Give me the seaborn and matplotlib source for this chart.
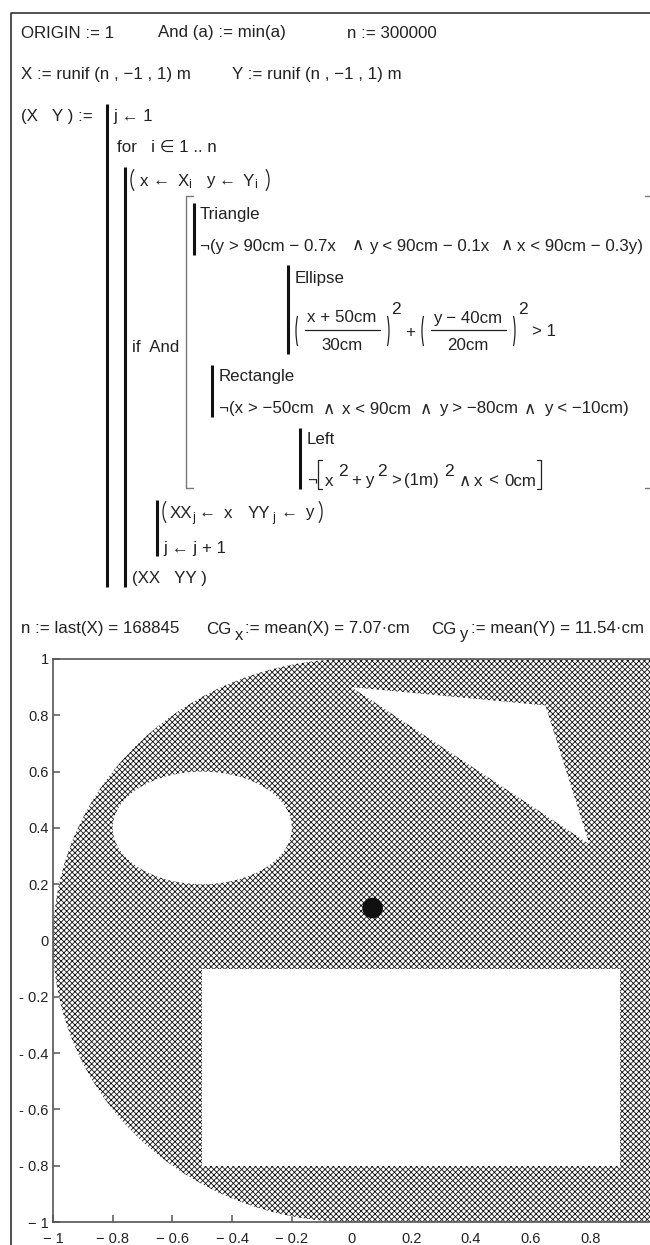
import matplotlib
matplotlib.use("Agg")
import matplotlib.pyplot as plt
import seaborn as sns
from matplotlib.patches import Wedge, Rectangle, Ellipse, Polygon, Arc

sns.set_style("white")
plt.rcParams['font.family'] = ['Liberation Sans', 'DejaVu Sans']
plt.rcParams['hatch.linewidth'] = 0.6

# Values
disk_radius = [1.0]
right_block_x = [-0.004, 1.0]
right_block_y = [-1.0, 1.0]
ellipse_centre = [-0.5, 0.4]
ellipse_radii = [0.3, 0.2]
triangle_x = [0.0, 0.6495, 0.797]
triangle_y = [0.9, 0.835, 0.342]
rect_x = [-0.5, 0.9]
rect_y = [-0.8, -0.1]
cg_x = [0.0707]
cg_y = [0.1154]
x_ticks = [-1, -0.8, -0.6, -0.4, -0.2, 0, 0.2, 0.4, 0.6, 0.8, 1]
x_labels = ['− 1', '− 0.8', '− 0.6', '− 0.4', '− 0.2', '0', '0.2', '0.4', '0.6', '0.8', '']
y_ticks = [-1, -0.8, -0.6, -0.4, -0.2, 0, 0.2, 0.4, 0.6, 0.8, 1]
y_labels = ['− 1', '- 0.8', '- 0.6', '- 0.4', '- 0.2', '0', '0.2', '0.4', '0.6', '0.8', '1']

W, H = 650, 1245
fig = plt.figure(figsize=(W / 100, H / 100), dpi=100, facecolor='white')

# ---- plot ----
L, R, T, B = 53, 650, 659, 1222
ax = fig.add_axes([L / W, 1 - B / H, (R - L) / W, (B - T) / H])
ax.set_xlim(-1, 1)
ax.set_ylim(-1, 1)
STIP = dict(facecolor='white', edgecolor='#111111', hatch='xxxxxx', linewidth=0)
ax.add_patch(Wedge((0, 0), disk_radius[0], 90, 270, **STIP))
ax.add_patch(Rectangle((right_block_x[0], right_block_y[0]),
                       right_block_x[1] - right_block_x[0],
                       right_block_y[1] - right_block_y[0], **STIP))
ax.add_patch(Ellipse(ellipse_centre, 2 * ellipse_radii[0], 2 * ellipse_radii[1],
                     facecolor='white', edgecolor='none', zorder=2))
ax.add_patch(Polygon(list(zip(triangle_x, triangle_y)), facecolor='white',
                     edgecolor='none', zorder=2))
ax.add_patch(Rectangle((rect_x[0], rect_y[0]), rect_x[1] - rect_x[0],
                       rect_y[1] - rect_y[0], facecolor='white',
                       edgecolor='none', zorder=2))
sns.scatterplot(x=cg_x, y=cg_y, s=220, color='#111111', edgecolor='none',
                ax=ax, zorder=4, legend=False)
ax.set_xticks(x_ticks, x_labels)
ax.set_yticks(y_ticks, y_labels)
ax.tick_params(axis='x', direction='in', length=5, width=1.1, color='#555555',
               labelsize=10.5, labelcolor='#222222', pad=7, bottom=True)
ax.tick_params(axis='y', direction='in', length=5, width=1.1, color='#555555',
               labelsize=10.5, labelcolor='#222222', pad=3, left=True)
for side in ax.spines:
    ax.spines[side].set_visible(side in ('left', 'bottom', 'top'))
    ax.spines[side].set_color('#555555')
    ax.spines[side].set_linewidth(1.2)
ax.set_xlabel('')
ax.set_ylabel('')

# ---- worksheet layer, in pixel coordinates ----
pg = fig.add_axes([0, 0, 1, 1], zorder=-1)
pg.set_xlim(0, W)
pg.set_ylim(H, 0)
pg.axis('off')
INK = '#222222'
FS = 12.2
SUB = 9
SUP = 12.5


def t(x, y, s, size=FS, ha='left'):
    # y is the visual middle of a capital letter in the main text size
    pg.text(x, y + 5.5, s, fontsize=size, color=INK, ha=ha, va='baseline')


def bar(x, y0, y1, lw=2.2, color='#111111'):
    pg.plot([x, x], [y0, y1], color=color, lw=lw, solid_capstyle='butt')


def paren(x, y, h, side):
    a = (110, 250) if side == 'l' else (-70, 70)
    pg.add_patch(Arc((x + (7 if side == 'l' else -7), y), 14, h,
                     theta1=a[0], theta2=a[1], color=INK, lw=0.9))


# page border
pg.plot([11, 11, W], [H, 13, 13], color='#333333', lw=1.2)

t(21, 32, 'ORIGIN := 1')
t(158, 32, 'And (a) := min(a)')
t(347, 32, 'n := 300000')
t(21, 74, 'X := runif (n , −1 , 1) m')
t(232, 74, 'Y := runif (n , −1 , 1) m')
t(21, 116, '(X   Y ) :=')
t(113, 116, 'j ← 1')
t(117, 146, 'for   i ∈ 1 .. n')

t(140, 180, 'x')
t(152, 180, '←')
t(178, 180, 'X')
t(188, 183, 'i', SUB)
t(206, 180, 'y')
t(218, 180, '←')
t(243, 180, 'Y')
t(254, 183, 'i', SUB)
paren(131, 180, 26, 'l')
paren(269, 180, 26, 'r')

bar(107, 104, 587)
bar(125, 167, 587)
pg.plot([193, 186, 186, 193], [196, 196, 488, 488], color='#777777', lw=1)
pg.plot([645, 650], [196, 196], color='#777777', lw=1)
pg.plot([645, 650], [488, 488], color='#777777', lw=1)

bar(194, 203, 255)
t(200, 213, 'Triangle')
t(200, 245, '¬(y > 90cm − 0.7x')
t(352, 245, '∧')
t(369, 245, 'y < 90cm − 0.1x')
t(501, 245, '∧')
t(517, 245, 'x < 90cm − 0.3y)')

bar(288, 265, 354)
t(295, 277, 'Ellipse')
t(342, 317, 'x + 50cm', ha='center')
pg.plot([305, 380], [330, 330], color=INK, lw=0.9)
t(342, 345, '30cm', ha='center')
t(468, 317, 'y − 40cm', ha='center')
pg.plot([431, 506], [330, 330], color=INK, lw=0.9)
t(468, 345, '20cm', ha='center')
paren(296, 331, 48, 'l')
paren(389, 331, 48, 'r')
paren(422, 331, 48, 'l')
paren(515, 331, 48, 'r')
t(391, 308, '2', SUP)
t(518, 308, '2', SUP)
t(405, 331, '+')
t(532, 331, '> 1')

t(132, 346, 'if  And')

bar(212, 365, 417)
t(219, 376, 'Rectangle')
t(219, 408, '¬(x > −50cm')
t(323, 408, '∧')
t(342, 408, 'x < 90cm')
t(420, 408, '∧')
t(439, 408, 'y > −80cm')
t(524, 408, '∧')
t(544, 408, 'y < −10cm)')

bar(300, 428, 489)
t(307, 439, 'Left')
t(307, 480, '¬')
pg.plot([322, 318, 318, 322], [460, 460, 489, 489], color=INK, lw=0.9)
t(325, 480, 'x')
t(338, 470, '2', SUP)
t(351, 480, '+')
t(365, 480, 'y')
t(377, 470, '2', SUP)
t(391, 480, '>')
t(404, 480, '(1m)')
t(444, 470, '2', SUP)
t(459, 480, '∧')
t(474, 480, 'x')
t(488, 480, '<')
t(504, 480, '0cm')
pg.plot([537, 541, 541, 537], [460, 460, 489, 489], color=INK, lw=0.9)

bar(157, 500, 556)
paren(163, 512, 26, 'l')
t(170, 512, 'XX')
t(192, 516, 'j', SUB)
t(199, 512, '←')
t(224, 512, 'x')
t(248, 512, 'YY')
t(272, 516, 'j', SUB)
t(280, 512, '←')
t(305, 512, 'y')
paren(322, 512, 26, 'r')
t(163, 547, 'j ← j + 1')
t(132, 578, '(XX   YY )')

t(21, 628, 'n := last(X) = 168845')
t(206, 628, 'CG')
t(235, 634, 'x', 12)
t(245, 628, ':= mean(X) = 7.07·cm')
t(431, 628, 'CG')
t(460, 634, 'y', 12)
t(471, 628, ':= mean(Y) = 11.54·cm')

fig.savefig('out.png', dpi=100, facecolor='white')
